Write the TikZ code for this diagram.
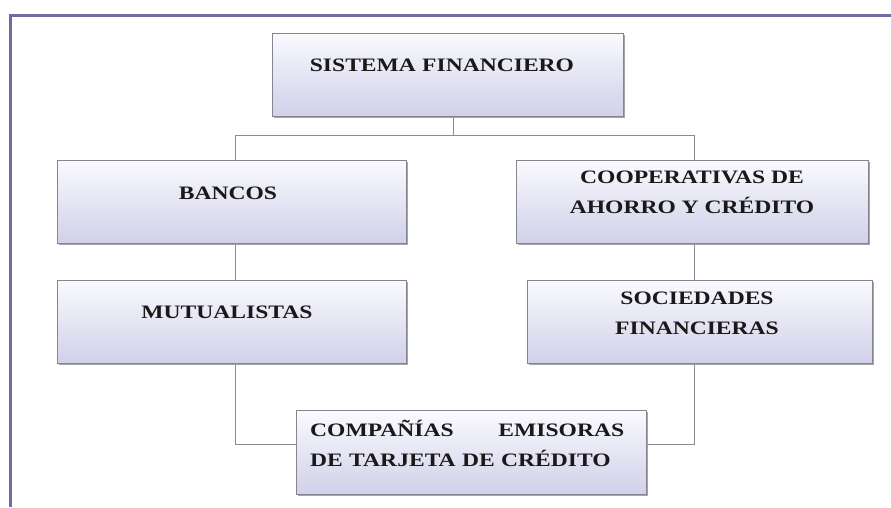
\documentclass[tikz,border=0pt]{standalone}
\usepackage{fontspec}
\setmainfont{Liberation Serif}[FakeStretch=1.24]
\usetikzlibrary{shadows}
\definecolor{framec}{HTML}{6E6CA0}
\definecolor{boxbot}{HTML}{D0D0EA}
\definecolor{boxtop}{HTML}{FAFAFE}
\definecolor{edgec}{HTML}{85858F}
\definecolor{linec}{HTML}{8C8C96}
\tikzset{
  orgbox/.style={draw=edgec, line width=0.9pt, top color=boxtop, bottom color=boxbot,
    drop shadow={shadow xshift=1.5pt, shadow yshift=-2pt, fill=black!50, opacity=0.7}},
  lbl/.style={font=\bfseries\fontsize{19}{30}\selectfont, text=black!90, align=center, inner sep=0pt},
  conn/.style={draw=linec, line width=0.8pt}
}
\begin{document}
\begin{tikzpicture}[x=1pt,y=-1pt]
\useasboundingbox (0,0) rectangle (891,507);
\fill[white] (0,0) rectangle (891,507);
% outer frame
\draw[framec, line width=3pt] (10,507) -- (10,15) -- (891,15);
% boxes
\path[orgbox] (272,33) rectangle (623,116);
\node[lbl] (sf) at (442,65) {SISTEMA\,\,FINANCIERO};
\path[orgbox] (57,160) rectangle (406,243);
\node[lbl] (ba) at (228,193) {BANCOS};
\path[orgbox] (516,160) rectangle (868,243);
\node[lbl] (co) at (692,192) {COOPERATIVAS DE\\AHORRO Y CRÉDITO};
\path[orgbox] (57,280) rectangle (406,363);
\node[lbl] (mu) at (227,312) {MUTUALISTAS};
\path[orgbox] (527,280) rectangle (872,363);
\node[lbl] (so) at (697,313) {SOCIEDADES\\FINANCIERAS};
\path[orgbox] (296,410) rectangle (646,494);
\node[lbl, align=left, text width=314pt, anchor=west] (cm) at (310,443) {COMPAÑÍAS\hfill EMISORAS\\DE TARJETA DE CRÉDITO};
% named anchors for the box edges
\coordinate (sfb) at (453,116);
\coordinate (bat) at (235,160);
\coordinate (bab) at (235,243);
\coordinate (cot) at (694,160);
\coordinate (cob) at (694,243);
\coordinate (mut) at (235,280);
\coordinate (mub) at (235,363);
\coordinate (sot) at (694,280);
\coordinate (sob) at (694,363);
\coordinate (cml) at (296,444);
\coordinate (cmr) at (646,444);
% connectors
\draw[conn] (sfb) -- (453,135) -| (bat);
\draw[conn] (453,135) -| (cot);
\draw[conn] (bab) -- (mut);
\draw[conn] (cob) -- (sot);
\draw[conn] (mub) |- (cml);
\draw[conn] (sob) |- (cmr);
\end{tikzpicture}
\end{document}
